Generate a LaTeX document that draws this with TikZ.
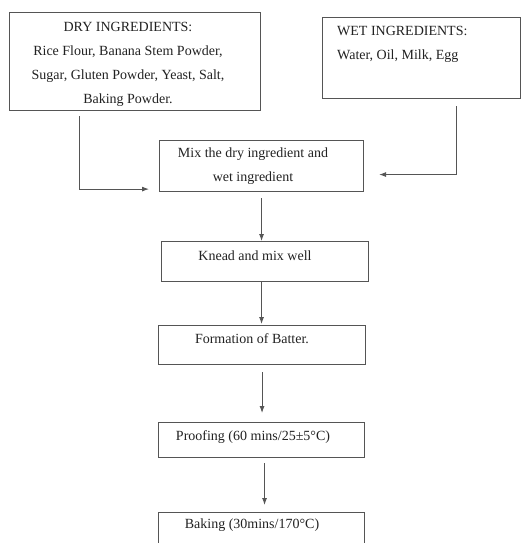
\documentclass[tikz,border=0pt]{standalone}
\usepackage{fontspec}
\setmainfont{Liberation Serif}
\usetikzlibrary{arrows.meta,calc}
\definecolor{linec}{HTML}{555555}
\definecolor{textc}{HTML}{222222}
\tikzset{
  box/.style={draw=linec, line width=1.1pt, rectangle, inner sep=0pt, anchor=north west},
  lbl/.style={text=textc, font=\fontsize{14}{24}\selectfont, inner sep=0pt},
  arr/.style={draw=linec, line width=0.9pt, -{Latex[length=7pt,width=5pt]}}
}
\begin{document}
\begin{tikzpicture}[x=1pt,y=-1pt]
\clip (0,0) rectangle (521,543);
\fill[white] (0,0) rectangle (521,543);
% boxes
\node[box, minimum width=251pt, minimum height=98pt] (dry) at (9,12) {};
\node[box, minimum width=198pt, minimum height=81pt] (wet) at (322,17) {};
\node[box, minimum width=204pt, minimum height=51pt] (mix) at (159,140) {};
\node[box, minimum width=207pt, minimum height=40pt] (knead) at (161,241) {};
\node[box, minimum width=207pt, minimum height=39pt] (form) at (158,325) {};
\node[box, minimum width=206pt, minimum height=35pt] (proof) at (158,422) {};
\node[box, minimum width=206pt, minimum height=45pt] (bake) at (158,512) {};
% texts
\node[lbl, align=center] (drytext) at (128,64.5) {DRY INGREDIENTS:\\Rice Flour, Banana Stem Powder,\\Sugar, Gluten Powder, Yeast, Salt,\\Baking Powder.};
\node[lbl, align=left, anchor=west] (wettext) at (337,44.5) {WET INGREDIENTS:\\Water, Oil, Milk, Egg};
\node[lbl, align=center] (mixtext) at (253,166) {Mix the dry ingredient and\\wet ingredient};
\node[lbl] (kneadtext) at (255,256) {Knead and mix well};
\node[lbl] (formtext) at (252,339) {Formation of Batter.};
\node[lbl] (prooftext) at (253,437) {Proofing (60 mins/25±5°C)};
\node[lbl] (baketext) at (252,525) {Baking (30mins/170°C)};
% connectors
\coordinate (dryout) at ($(dry.south west)+(70,5)$);
\coordinate (dryin) at ($(mix.south west)+(-10,-3)$);
\draw[arr] (dryout) |- (dryin);
\coordinate (wetout) at ($(wet.south)+(35,7)$);
\coordinate (wetin) at ($(mix.east)+(15,8.5)$);
\draw[arr] (wetout) |- (wetin);
\draw[arr, shorten <=6pt] (mix.south) -- (mix.south |- knead.north);
\draw[arr, shorten >=1pt] ([xshift=-3.5pt]knead.south) -- ([xshift=-3.5pt]knead.south |- form.north);
\draw[arr, shorten <=7pt, shorten >=9pt] (form.south) -- (form.south |- proof.north);
\draw[arr, shorten <=5pt, shorten >=7pt] ([xshift=3pt]proof.south) -- ([xshift=3pt]proof.south |- bake.north);
\end{tikzpicture}
\end{document}
